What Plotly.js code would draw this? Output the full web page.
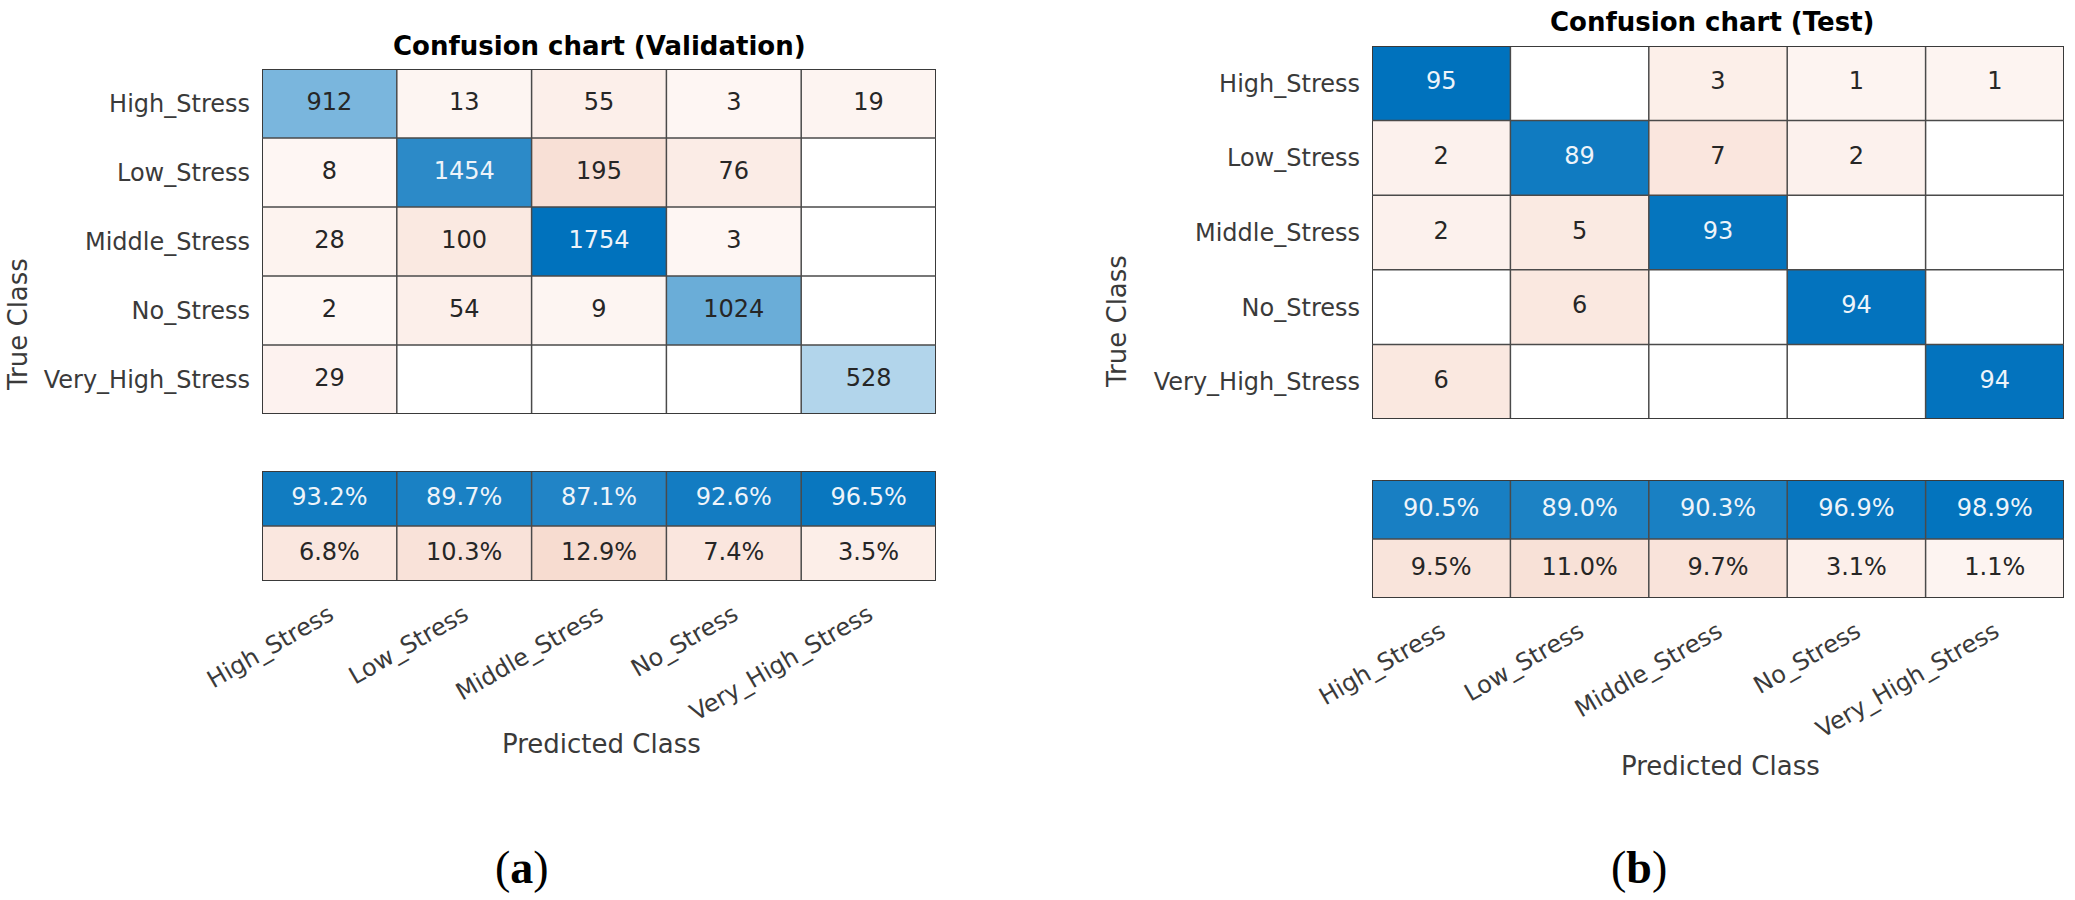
<!DOCTYPE html>
<html>
<head>
<meta charset="utf-8">
<script src="https://cdn.plot.ly/plotly-3.0.1.min.js"></script>
<style>html,body{margin:0;padding:0;background:#fff;}#chart{width:2075px;height:900px;}</style>
</head>
<body>
<div id="chart"></div>
<script>
// ---------- data ----------
const classes = ['High_Stress', 'Low_Stress', 'Middle_Stress', 'No_Stress', 'Very_High_Stress'];
const summaryRows = ['Precision', 'FalseDiscovery'];

const valMatrix = [
  [912, 13, 55, 3, 19],
  [8, 1454, 195, 76, 0],
  [28, 100, 1754, 3, 0],
  [2, 54, 9, 1024, 0],
  [29, 0, 0, 0, 528]
];
const valPrecision = [93.2, 89.7, 87.1, 92.6, 96.5];
const valFDR = [6.8, 10.3, 12.9, 7.4, 3.5];

const testMatrix = [
  [95, 0, 3, 1, 1],
  [2, 89, 7, 2, 0],
  [2, 5, 93, 0, 0],
  [0, 6, 0, 94, 0],
  [6, 0, 0, 0, 94]
];
const testPrecision = [90.5, 89.0, 90.3, 96.9, 98.9];
const testFDR = [9.5, 11.0, 9.7, 3.1, 1.1];

const titleVal = 'Confusion chart (Validation)';
const titleTest = 'Confusion chart (Test)';
const yLabel = 'True Class';
const xLabel = 'Predicted Class';

// ---------- styling ----------
const W = 2075, H = 900;
const FONT = 'DejaVu Sans, Liberation Sans, sans-serif';
const blueScale = [[0, '#ffffff'], [1, '#0072BD']];
const orangeScale = [[0, '#FEF7F4'], [0.01, '#FDF4F1'], [0.03, '#FCEFEA'], [0.06, '#FAE8E0'],
                     [0.1, '#F9E3DA'], [0.13, '#F7DCD0'], [1, '#D95319']];
const darkText = '#262626';
const lightText = '#EEF4FA';
const tickColor = '#3a3a3a';

function px(x) { return x / W; }
function py(y) { return 1 - y / H; }

const traces = [];
const shapes = [];
const annotations = [];

function gridShapes(xa, ya, ncols, nrows) {
  const xr = xa, yr = ya;
  for (let i = 0; i <= ncols; i++) {
    const outer = (i === 0 || i === ncols);
    shapes.push({type: 'line', xref: xr, yref: yr, x0: i - 0.5, x1: i - 0.5, y0: -0.5, y1: nrows - 0.5,
      line: {color: outer ? '#3a3a3a' : '#4a4a4a', width: outer ? 2 : 1.5}});
  }
  for (let j = 0; j <= nrows; j++) {
    const outer = (j === 0 || j === nrows);
    shapes.push({type: 'line', xref: xr, yref: yr, y0: j - 0.5, y1: j - 0.5, x0: -0.5, x1: ncols - 0.5,
      line: {color: outer ? '#3a3a3a' : '#4a4a4a', width: outer ? 2 : 1.5}});
  }
}

function addPanel(matrix, precision, fdr, axMain, axSum) {
  const n = classes.length;
  let maxAll = 0;
  matrix.forEach(r => r.forEach(v => { if (v > maxAll) maxAll = v; }));
  const diagZ = [], offZ = [];
  const tx = [], ty = [], tt = [], tc = [];
  for (let i = 0; i < n; i++) {
    const dRow = [], oRow = [];
    for (let j = 0; j < n; j++) {
      const v = matrix[i][j];
      const f = v / maxAll;
      if (i === j) { dRow.push(f); oRow.push(null); }
      else { dRow.push(null); oRow.push(v > 0 ? f : null); }
      if (v > 0) {
        tx.push(classes[j]); ty.push(classes[i]); tt.push(String(v));
        tc.push(i === j && f > 0.7 ? lightText : darkText);
      }
    }
    diagZ.push(dRow); offZ.push(oRow);
  }
  const xm = axMain.x, ym = axMain.y;
  traces.push({type: 'heatmap', x: classes, y: classes, z: diagZ, xaxis: xm, yaxis: ym,
    colorscale: blueScale, zmin: 0, zmax: 1, showscale: false, hoverinfo: 'skip'});
  traces.push({type: 'heatmap', x: classes, y: classes, z: offZ, xaxis: xm, yaxis: ym,
    colorscale: orangeScale, zmin: 0, zmax: 1, showscale: false, hoverinfo: 'skip'});
  traces.push({type: 'scatter', mode: 'text', x: tx, y: ty, text: tt, xaxis: xm, yaxis: ym,
    textfont: {family: FONT, size: 24, color: tc}, hoverinfo: 'skip', cliponaxis: false});

  // summary rows
  const xs = axSum.x, ys = axSum.y;
  const pZ = [precision.map(v => v / 100), precision.map(() => null)];
  const fZ = [fdr.map(() => null), fdr.map(v => v / 100)];
  traces.push({type: 'heatmap', x: classes, y: summaryRows, z: pZ, xaxis: xs, yaxis: ys,
    colorscale: blueScale, zmin: 0, zmax: 1, showscale: false, hoverinfo: 'skip'});
  traces.push({type: 'heatmap', x: classes, y: summaryRows, z: fZ, xaxis: xs, yaxis: ys,
    colorscale: orangeScale, zmin: 0, zmax: 1, showscale: false, hoverinfo: 'skip'});
  const sx = [], sy = [], st = [], sc = [];
  precision.forEach((v, j) => { sx.push(classes[j]); sy.push(summaryRows[0]); st.push(v.toFixed(1) + '%'); sc.push(v / 100 > 0.7 ? lightText : darkText); });
  fdr.forEach((v, j) => { sx.push(classes[j]); sy.push(summaryRows[1]); st.push(v.toFixed(1) + '%'); sc.push(darkText); });
  traces.push({type: 'scatter', mode: 'text', x: sx, y: sy, text: st, xaxis: xs, yaxis: ys,
    textfont: {family: FONT, size: 24, color: sc}, hoverinfo: 'skip', cliponaxis: false});

  gridShapes(axMain.ref[0], axMain.ref[1], n, n);
  gridShapes(axSum.ref[0], axSum.ref[1], n, summaryRows.length);
}

addPanel(valMatrix, valPrecision, valFDR, {x: 'x', y: 'y', ref: ['x', 'y']}, {x: 'x2', y: 'y2', ref: ['x2', 'y2']});
addPanel(testMatrix, testPrecision, testFDR, {x: 'x3', y: 'y3', ref: ['x3', 'y3']}, {x: 'x4', y: 'y4', ref: ['x4', 'y4']});

// ---------- axes ----------
const L = {x0: 262, x1: 936, m0: 69, m1: 414, s0: 471, s1: 581};
const R = {x0: 1372, x1: 2064, m0: 46, m1: 419, s0: 480, s1: 598};

function mainX(dom) {
  return {domain: dom, type: 'category', range: [-0.5, 4.5], showticklabels: false, ticks: '',
    showgrid: false, zeroline: false, showline: false, fixedrange: true};
}
function mainY(dom, anchor) {
  return {domain: dom, anchor: anchor, type: 'category', range: [4.5, -0.5], ticks: '', showgrid: false,
    zeroline: false, showline: false, fixedrange: true, ticklabelstandoff: 11,
    tickfont: {family: FONT, size: 24, color: tickColor}};
}
function sumX(dom, anchor) {
  return {domain: dom, anchor: anchor, type: 'category', range: [-0.5, 4.5], ticks: '', showgrid: false,
    zeroline: false, showline: false, fixedrange: true, tickangle: -30, ticklabelstandoff: 14,
    tickfont: {family: FONT, size: 24, color: tickColor}};
}
function sumY(dom, anchor) {
  return {domain: dom, anchor: anchor, type: 'category', range: [1.5, -0.5], showticklabels: false, ticks: '',
    showgrid: false, zeroline: false, showline: false, fixedrange: true};
}

const layout = {
  width: W, height: H,
  margin: {l: 0, r: 0, t: 0, b: 0, pad: 0},
  paper_bgcolor: '#ffffff', plot_bgcolor: '#ffffff',
  showlegend: false,
  font: {family: FONT, color: tickColor},
  xaxis: Object.assign(mainX([px(L.x0), px(L.x1)]), {anchor: 'y'}),
  yaxis: mainY([py(L.m1), py(L.m0)], 'x'),
  xaxis2: sumX([px(L.x0), px(L.x1)], 'y2'),
  yaxis2: sumY([py(L.s1), py(L.s0)], 'x2'),
  xaxis3: Object.assign(mainX([px(R.x0), px(R.x1)]), {anchor: 'y3'}),
  yaxis3: mainY([py(R.m1), py(R.m0)], 'x3'),
  xaxis4: sumX([px(R.x0), px(R.x1)], 'y4'),
  yaxis4: sumY([py(R.s1), py(R.s0)], 'x4'),
  shapes: shapes,
  annotations: [
    {text: '<b>' + titleVal + '</b>', x: px((L.x0 + L.x1) / 2), y: py(46), xref: 'paper', yref: 'paper',
      xanchor: 'center', yanchor: 'middle', showarrow: false, font: {family: FONT, size: 26, color: '#000000'}},
    {text: '<b>' + titleTest + '</b>', x: px(1712), y: py(22), xref: 'paper', yref: 'paper',
      xanchor: 'center', yanchor: 'middle', showarrow: false, font: {family: FONT, size: 26, color: '#000000'}},
    {text: yLabel, x: px(18), y: py((L.m0 + L.s1) / 2), xref: 'paper', yref: 'paper', textangle: -90,
      xanchor: 'center', yanchor: 'middle', showarrow: false, font: {family: FONT, size: 26, color: tickColor}},
    {text: yLabel, x: px(1117), y: py((R.m0 + R.s1) / 2), xref: 'paper', yref: 'paper', textangle: -90,
      xanchor: 'center', yanchor: 'middle', showarrow: false, font: {family: FONT, size: 26, color: tickColor}},
    {text: xLabel, x: px(601), y: py(744), xref: 'paper', yref: 'paper',
      xanchor: 'center', yanchor: 'middle', showarrow: false, font: {family: FONT, size: 26, color: tickColor}},
    {text: xLabel, x: px(1720), y: py(766), xref: 'paper', yref: 'paper',
      xanchor: 'center', yanchor: 'middle', showarrow: false, font: {family: FONT, size: 26, color: tickColor}},
    {text: '(<b>a</b>)', x: px(522), y: py(867), xref: 'paper', yref: 'paper',
      xanchor: 'center', yanchor: 'middle', showarrow: false, font: {family: 'Liberation Serif, DejaVu Serif, serif', size: 46, color: '#000000'}},
    {text: '(<b>b</b>)', x: px(1639), y: py(867), xref: 'paper', yref: 'paper',
      xanchor: 'center', yanchor: 'middle', showarrow: false, font: {family: 'Liberation Serif, DejaVu Serif, serif', size: 46, color: '#000000'}}
  ]
};

Plotly.newPlot('chart', traces, layout, {staticPlot: true, displayModeBar: false});
</script>
</body>
</html>
